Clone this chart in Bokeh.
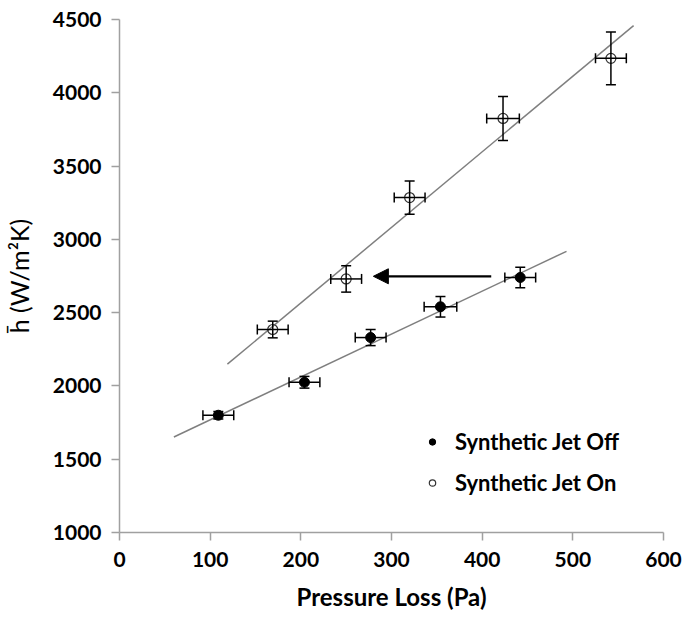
import numpy as np
from bokeh.plotting import figure
from bokeh.models import (Range1d, Whisker, ColumnDataSource, Arrow, NormalHead,
                          TeeHead, Legend, LegendItem, FixedTicker)
from bokeh.embed import file_html
from bokeh.resources import INLINE

# ---- data ----
x_off = [109, 204, 277, 354, 442]
y_off = [1800, 2025, 2330, 2540, 2740]
xerr_off = [17, 17, 17, 18, 17]
yerr_off = [25, 40, 55, 70, 70]

x_on = [169, 250, 320, 423, 542]
y_on = [2385, 2730, 3285, 3825, 4235]
xerr_on = [17, 17, 17, 18, 17]
yerr_on = [57, 90, 113, 150, 180]

fit_off_range = [60, 493]
fit_on_range = [119, 567]

arrow_x = [410, 280]
arrow_y = [2748, 2748]

x_ticks = [0, 100, 200, 300, 400, 500, 600]
y_ticks = [1000, 1500, 2000, 2500, 3000, 3500, 4000, 4500]

series_names = ["Synthetic Jet Off", "Synthetic Jet On"]

AXIS_GREY = "#a0a0a0"

p = figure(width=685, height=618, output_backend="svg", toolbar_location=None,
           x_range=Range1d(0, 600), y_range=Range1d(1000, 4500),
           min_border_left=119, min_border_right=22, min_border_top=19,
           min_border_bottom=86)
p.outline_line_color = None
p.grid.visible = False
p.background_fill_color = "white"
p.border_fill_color = "white"

for ax in (p.xaxis[0], p.yaxis[0]):
    ax.axis_line_color = AXIS_GREY
    ax.axis_line_width = 1.5
    ax.major_tick_line_color = AXIS_GREY
    ax.major_tick_line_width = 1.5
    ax.major_tick_out = 8
    ax.major_tick_in = 0
    ax.minor_tick_line_color = None
    ax.major_label_text_font = "Lato"
    ax.major_label_text_font_style = "bold"
    ax.major_label_text_font_size = "21px"
    ax.major_label_text_color = "black"
    ax.axis_label_text_color = "black"
    ax.axis_label_text_font = "Lato"

p.xaxis[0].ticker = FixedTicker(ticks=x_ticks)
p.yaxis[0].ticker = FixedTicker(ticks=y_ticks)
p.xaxis[0].major_label_standoff = 11
p.yaxis[0].major_label_standoff = 10

p.xaxis[0].axis_label = "Pressure Loss (Pa)"
p.xaxis[0].axis_label_text_font_size = "24px"
p.xaxis[0].axis_label_text_font_style = "bold"
p.xaxis[0].axis_label_standoff = 12

p.yaxis[0].axis_label = "h\u0304 (W/m\u00b2K)"
p.yaxis[0].axis_label_text_font_size = "25px"
p.yaxis[0].axis_label_text_font_style = "normal"
p.yaxis[0].axis_label_standoff = 16

# ---- linear fits ----
for xs, ys, rng in ((x_off, y_off, fit_off_range), (x_on, y_on, fit_on_range)):
    m, b = np.polyfit(xs, ys, 1)
    fx = np.array(rng, dtype=float)
    p.line(fx, m * fx + b, line_color="#7f7f7f", line_width=1.5)

# ---- error bars ----
def add_errors(xs, ys, xe, ye):
    xs = np.array(xs, float); ys = np.array(ys, float)
    xe = np.array(xe, float); ye = np.array(ye, float)
    src = ColumnDataSource(dict(x=xs, y=ys, xl=xs - xe, xu=xs + xe,
                                yl=ys - ye, yu=ys + ye))
    for dim, base, lo, up in (("height", "x", "yl", "yu"), ("width", "y", "xl", "xu")):
        w = Whisker(source=src, base=base, lower=lo, upper=up, dimension=dim,
                    line_color="black", line_width=1.5, level="glyph",
                    lower_head=TeeHead(size=10, line_color="black", line_width=1.5),
                    upper_head=TeeHead(size=10, line_color="black", line_width=1.5))
        p.add_layout(w)
    return src

src_off = add_errors(x_off, y_off, xerr_off, yerr_off)
src_on = add_errors(x_on, y_on, xerr_on, yerr_on)

r_off = p.scatter("x", "y", source=src_off, size=10, marker="circle",
                  fill_color="black", line_color="black")
r_on = p.scatter("x", "y", source=src_on, size=10, marker="circle",
                 fill_alpha=0, line_color="#333333", line_width=1.2)

# ---- arrow ----
p.add_layout(Arrow(x_start=arrow_x[0], y_start=arrow_y[0], x_end=arrow_x[1], y_end=arrow_y[1],
                   line_color="black", line_width=2.2,
                   end=NormalHead(size=15, fill_color="black", line_color="black")))

# ---- legend ----
legend = Legend(items=[LegendItem(label=series_names[0], renderers=[r_off]),
                       LegendItem(label=series_names[1], renderers=[r_on])],
                location=(305, 36), padding=0, margin=0, spacing=14,
                glyph_width=16, glyph_height=25, label_height=25, label_standoff=15,
                label_text_font="Lato", label_text_font_style="bold",
                label_text_font_size="22px", label_text_color="black",
                border_line_alpha=0, background_fill_alpha=0)
p.add_layout(legend)

open("out.html", "w").write(file_html(p, INLINE))
